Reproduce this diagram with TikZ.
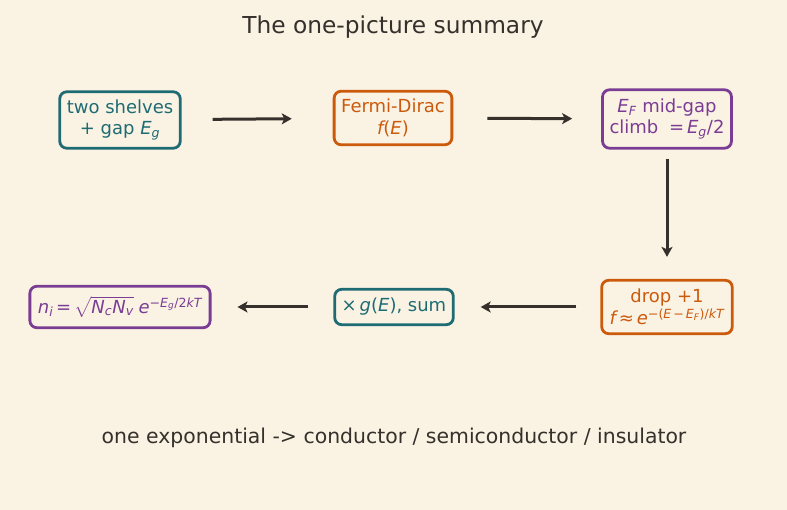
\documentclass[tikz,border=0pt]{standalone}
\usepackage{amsmath}
\usepackage{fontspec}
\setmainfont{DejaVu Sans}
\usetikzlibrary{arrows.meta}

\definecolor{paper}{HTML}{FAF3E4}
\definecolor{ink}{HTML}{35302B}
\definecolor{tealc}{HTML}{1E6B73}
\definecolor{rust}{HTML}{CC5A0C}
\definecolor{plum}{HTML}{7B3D94}

% italic letter in DejaVu, usable in math and in scripts
\newcommand\mv[1]{\text{\itshape #1}}
\newcommand\mo[1]{\text{#1}}

\begin{document}
\begin{tikzpicture}[x=1pt,y=-1pt]
\def \toprow {118}
\def \botrow {307}
   \tikzset{stepbox/.style = {draw, rounded corners=7pt, line width=2.8pt, fill=paper,
                              align=center, inner xsep=7pt, inner ysep=8pt,
                              font=\fontsize{18}{21.5}\selectfont}}
   \tikzset{flow/.style = {ink, line width=3pt, -{Stealth[length=10pt,width=11pt,inset=2.5pt]}}}
   \fill[paper] (0,0) rectangle (787,510);
   \useasboundingbox (0,0) rectangle (787,510);

   \node[ink, font=\fontsize{23.3}{27}\selectfont] (title) at (393,27) {The one-picture summary};

   \node[stepbox, draw=tealc, text=tealc] (shelves) at (120,\toprow+2)
        {two shelves\\+ gap $\mv{E}_{\mv{g}}$};
   \node[stepbox, draw=rust, text=rust] (fermi) at (393,\toprow)
        {Fermi-Dirac\\$\mv{f}\mo{(}\mv{E}\mo{)}$};
   \node[stepbox, draw=plum, text=plum, inner ysep=9pt] (midgap) at (667,\toprow+1)
        {$\mv{E}_{\mv{F}}$ mid-gap\\climb\; $\mo{=}\,\mv{E}_{\mv{g}}\mo{/2}$};
   \node[stepbox, draw=rust, text=rust, inner ysep=9pt, inner xsep=8pt] (drop) at (667,\botrow)
        {drop +1\\$\mv{f}\,\mo{≈}\,\mv{e}^{\mo{−(}\mv{E}\,\mo{−}\,\mv{E}_{\mv{F}}\mo{)/}\mv{kT}}$};
   \node[stepbox, draw=tealc, text=tealc, inner ysep=9pt] (sum) at (394,\botrow)
        {$\mo{×}\,\mv{g}\mo{(}\mv{E}\mo{)}$, sum};
   \node[stepbox, draw=plum, text=plum, inner ysep=10pt, inner xsep=8pt] (ni) at (120,\botrow)
        {$\mv{n}_{\mv{i}}\,\mo{=}\,\sqrt{\mv{N}_{\mv{c}}\mv{N}_{\mv{v}}}\;\mv{e}^{\mo{−}\mv{E}_{\mv{g}}\mo{/2}\mv{kT}}$};

   \draw[flow, shorten <=31pt, shorten >=41pt] (shelves) -- (fermi);
   \draw[flow, shorten <=34pt, shorten >=29pt] (fermi) -- (midgap);
   \draw[flow, shorten <=9pt, shorten >=22pt] (midgap) -- (drop);
   \draw[flow, shorten <=24pt, shorten >=26pt] (drop) -- (sum);
   \draw[flow, shorten <=25pt, shorten >=26pt] (sum) -- (ni);

   \node[ink, font=\fontsize{20.4}{24}\selectfont] (moral) at (394,438)
        {one exponential -> conductor / semiconductor / insulator};
\end{tikzpicture}
\end{document}
